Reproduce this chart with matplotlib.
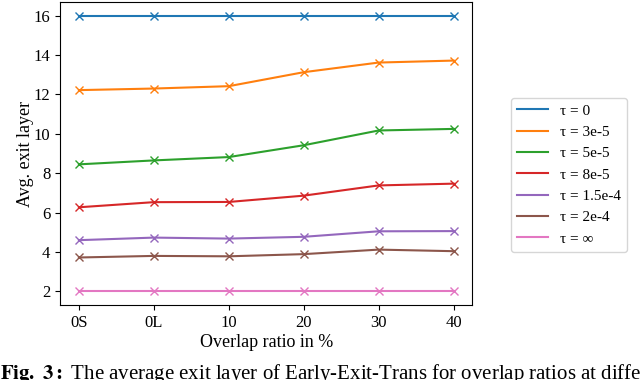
import matplotlib
matplotlib.use("Agg")
import matplotlib.pyplot as plt

plt.rcParams['font.family'] = ['Liberation Serif', 'DejaVu Serif']
plt.rcParams['mathtext.fontset'] = 'stix'

ratios = ["0S", "0L", "10", "20", "30", "40"]
labels = ["τ = 0", "τ = 3e-5", "τ = 5e-5", "τ = 8e-5", "τ = 1.5e-4", "τ = 2e-4", "τ = ∞"]
tau_0 = [16, 16, 16, 16, 16, 16]
tau_3e5 = [12.22, 12.3, 12.42, 13.13, 13.62, 13.72]
tau_5e5 = [8.45, 8.65, 8.82, 9.42, 10.17, 10.25]
tau_8e5 = [6.27, 6.53, 6.54, 6.86, 7.38, 7.47]
tau_15e4 = [4.6, 4.73, 4.68, 4.77, 5.05, 5.06]
tau_2e4 = [3.72, 3.8, 3.78, 3.89, 4.12, 4.04]
tau_inf = [2, 2, 2, 2, 2, 2]
series = [tau_0, tau_3e5, tau_5e5, tau_8e5, tau_15e4, tau_2e4, tau_inf]

fig = plt.figure(figsize=(6.4, 3.8), dpi=100)
ax = fig.add_axes([0.094, 0.197, 0.644, 0.798])

x = range(len(ratios))
for vals, lab in zip(series, labels):
    ax.plot(x, vals, marker="x", label=lab)

ax.set_xticks(list(x))
ax.set_xticklabels(ratios)
ax.set_yticks([2, 4, 6, 8, 10, 12, 14, 16])
ax.tick_params(labelsize=12)
ax.set_xlabel("Overlap ratio in %", fontsize=13, labelpad=2)
ax.set_ylabel("Avg. exit layer", fontsize=13, labelpad=0)

leg = ax.legend(loc="center left", bbox_to_anchor=(0.787, 0.54),
                bbox_transform=fig.transFigure, fontsize=11)
for h in leg.legend_handles:
    h.set_marker("")

fig.text(0.0, 0.015, r"$\bf{Fig.\ 3:}$ The average exit layer of Early-Exit-Trans for overlap ratios at different",
         fontsize=15, va="center", ha="left")

fig.savefig("out.png", dpi=100)
